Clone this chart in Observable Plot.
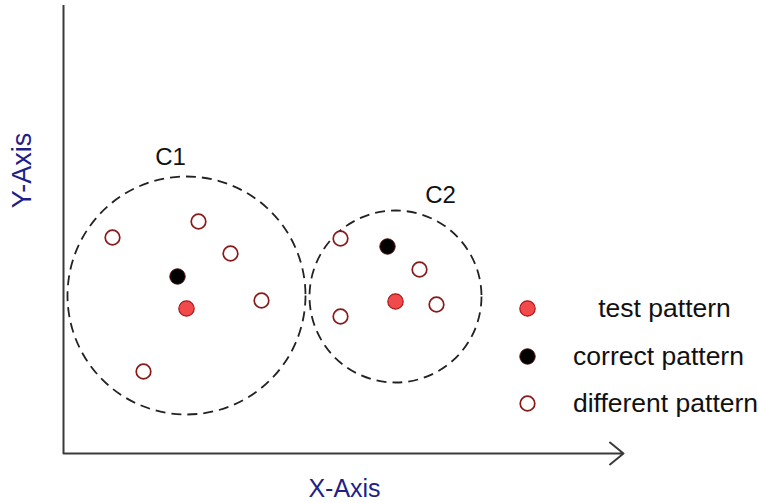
<!DOCTYPE html>
<html>
<head>
<meta charset="utf-8">
<script src="https://cdn.jsdelivr.net/npm/d3@7"></script>
<script src="https://cdn.jsdelivr.net/npm/@observablehq/plot@0.6"></script>
<style>
  html, body { margin: 0; padding: 0; background: #fff; }
</style>
</head>
<body>
<div id="chart"></div>
<script>
// Data (origin at the axes' corner, units ~ pixels of the reference)
const clusterNames = ["C1", "C2"];
const clusterX = [123, 332];
const clusterY = [158, 157];
const clusterRadius = [119, 86];
const clusterLabelX = [107, 377];
const clusterLabelY = [296, 258];

const differentX = [49, 135, 167, 198, 80, 277, 356, 373, 277];
const differentY = [216, 232, 200, 153, 82, 215, 184, 149, 137];
const correctX = [114, 324];
const correctY = [177, 207];
const testX = [123, 332];
const testY = [145, 152];

const legendLabels = ["test pattern", "correct pattern", "different pattern"];
const legendY = [145, 97, 50];
const legendDotX = 464;
const legendTextX = [601, 595, 602];

const xAxisLabel = "X-Axis";
const yAxisLabel = "Y-Axis";
const xAxisEnd = 560;
const yAxisEnd = 448;

const clusters = clusterNames.map((n, i) => ({name: n, x: clusterX[i], y: clusterY[i], r: clusterRadius[i], lx: clusterLabelX[i], ly: clusterLabelY[i]}));
const different = differentX.map((x, i) => ({x, y: differentY[i]}));
const correct = correctX.map((x, i) => ({x, y: correctY[i]}));
const test = testX.map((x, i) => ({x, y: testY[i]}));
const legend = legendLabels.map((l, i) => ({label: l, y: legendY[i], tx: legendTextX[i], kind: i}));

const RED = "#f24a4a", RED_STROKE = "#a8191b", OPEN_STROKE = "#8a1a1a", AXIS = "#3a3a3a", NAVY = "#1f1f88";

const chart = Plot.plot({
  width: 758,
  height: 503,
  margin: 0,
  style: {fontFamily: "Arial, 'Liberation Sans', sans-serif", background: "#fff"},
  x: {domain: [-63, 695], range: [0, 758], axis: null},
  y: {domain: [-50, 453], range: [503, 0], axis: null},
  r: {type: "linear", domain: [0, 100], range: [0, 100]},
  marks: [
    // axes
    Plot.ruleX([0], {y1: 0, y2: yAxisEnd, stroke: AXIS, strokeWidth: 2}),
    Plot.arrow([{x1: 0, y1: 0, x2: xAxisEnd, y2: 0}], {x1: "x1", y1: "y1", x2: "x2", y2: "y2", stroke: AXIS, strokeWidth: 2, headAngle: 78, headLength: 13}),
    Plot.text([yAxisLabel], {x: -41, y: 283, text: d => d, rotate: -90, fontSize: 27, fill: NAVY}),
    Plot.text([xAxisLabel], {x: 281, y: -35.5, text: d => d, fontSize: 25, fill: NAVY}),
    // clusters
    Plot.dot(clusters, {x: "x", y: "y", r: "r", fill: "none", stroke: "#222", strokeWidth: 1.8, strokeDasharray: "10,6"}),
    Plot.text(clusters, {x: "lx", y: "ly", text: "name", fontSize: 24, fill: "#111"}),
    // points
    Plot.dot(different, {x: "x", y: "y", r: 7.3, fill: "#fff", stroke: OPEN_STROKE, strokeWidth: 1.7}),
    Plot.dot(correct, {x: "x", y: "y", r: 7.7, fill: "#000", stroke: "#4a0a0a", strokeWidth: 1}),
    Plot.dot(test, {x: "x", y: "y", r: 7.7, fill: RED, stroke: RED_STROKE, strokeWidth: 1.2}),
    // legend
    Plot.dot(legend.filter(d => d.kind === 0), {x: legendDotX, y: "y", r: 7.7, fill: RED, stroke: RED_STROKE, strokeWidth: 1.2}),
    Plot.dot(legend.filter(d => d.kind === 1), {x: legendDotX, y: "y", r: 7.7, fill: "#000", stroke: "#4a0a0a", strokeWidth: 1}),
    Plot.dot(legend.filter(d => d.kind === 2), {x: legendDotX, y: "y", r: 7.3, fill: "#fff", stroke: OPEN_STROKE, strokeWidth: 1.7}),
    Plot.text(legend, {x: "tx", y: "y", text: "label", fontSize: 26.5, fill: "#111"})
  ]
});
document.getElementById("chart").appendChild(chart);
</script>
</body>
</html>
